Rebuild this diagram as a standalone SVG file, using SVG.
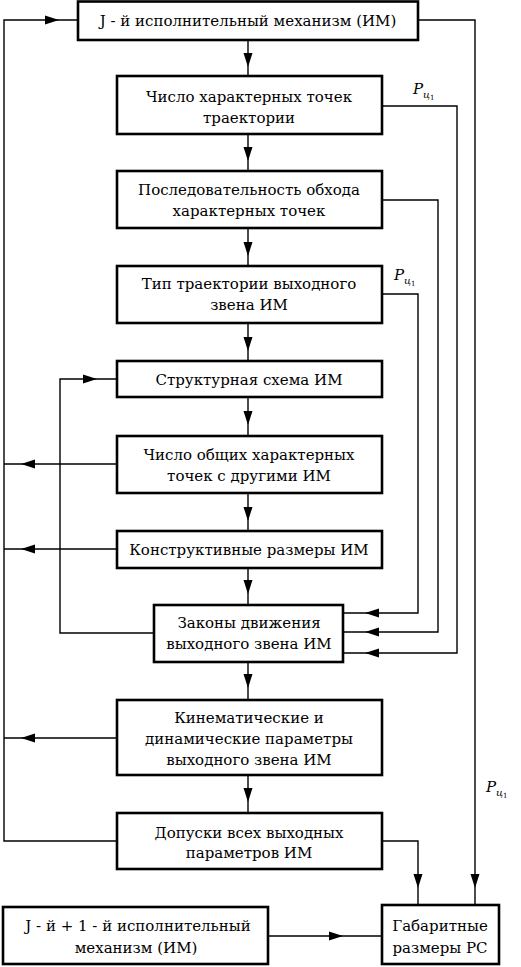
<svg xmlns="http://www.w3.org/2000/svg" xmlns:xlink="http://www.w3.org/1999/xlink" width="521" height="967" viewBox="0 0 521 967">
<style>
.box{fill:#fff;stroke:#000;stroke-width:2.6}
.c{fill:none;stroke:#000;stroke-width:1.4}
</style>
<defs>
<path id="ad" d="M-4.5,-14 L4.5,-14 L0,0 Z" fill="#000"/>
<path id="al" d="M14,-4.5 L14,4.5 L0,0 Z" fill="#000"/>
<path id="ar" d="M-14,-4.5 L-14,4.5 L0,0 Z" fill="#000"/>
</defs>
<g id="connectors">
<path class="c" d="M248,40 V76 M248,134 V171 M248,228 V266 M248,323 V361 M248,397 V436 M248,493 V531 M248,568 V605 M248,662 V700 M248,775 V813"/>
<use xlink:href="#ad" x="248" y="67"/>
<use xlink:href="#ad" x="248" y="161"/>
<use xlink:href="#ad" x="248" y="256"/>
<use xlink:href="#ad" x="248" y="351"/>
<use xlink:href="#ad" x="248" y="425"/>
<use xlink:href="#ad" x="248" y="521"/>
<use xlink:href="#ad" x="248" y="594"/>
<use xlink:href="#ad" x="248" y="688"/>
<use xlink:href="#ad" x="248" y="802"/>
<path class="c" d="M78,20 H4 V841 H117"/>
<use xlink:href="#ar" x="59" y="20"/>
<path class="c" d="M117,464 H4 M117,549 H4 M117,738 H4"/>
<use xlink:href="#al" x="21" y="464"/>
<use xlink:href="#al" x="21" y="549"/>
<use xlink:href="#al" x="21" y="738"/>
<path class="c" d="M154,633 H60 V379 H117"/>
<use xlink:href="#ar" x="97" y="379"/>
<path class="c" d="M382,106 H457 V653 H343 M382,200 H438 V632 H343 M382,294 H418 V613 H343"/>
<use xlink:href="#al" x="365" y="613"/>
<use xlink:href="#al" x="365" y="632"/>
<use xlink:href="#al" x="365" y="653"/>
<path class="c" d="M418,20 H475 V905 M382,841 H418 V905"/>
<use xlink:href="#ad" x="475" y="888"/>
<use xlink:href="#ad" x="418" y="888"/>
<path class="c" d="M268,936 H382"/>
<use xlink:href="#ar" x="343" y="936"/>
</g>
<g font-family="DejaVu Serif, serif" font-size="15" text-anchor="middle" fill="#000">
<g id="n1"><rect class="box" x="78" y="1.5" width="340" height="38.5"/><text x="248" y="25.5">J - й исполнительный механизм (ИМ)</text></g>
<g id="n2"><rect class="box" x="117" y="76" width="265" height="58"/><text x="249" y="101.5">Число характерных точек</text><text x="249" y="122.5">траектории</text></g>
<g id="n3"><rect class="box" x="117" y="171" width="265" height="57"/><text x="249" y="194.5">Последовательность обхода</text><text x="249" y="215.5">характерных точек</text></g>
<g id="n4"><rect class="box" x="117" y="266" width="265" height="57"/><text x="249" y="288.5">Тип траектории выходного</text><text x="249" y="309.5">звена ИМ</text></g>
<g id="n5"><rect class="box" x="117" y="361" width="265" height="36"/><text x="249" y="384.5">Структурная схема ИМ</text></g>
<g id="n6"><rect class="box" x="117" y="436" width="265" height="57"/><text x="249" y="459.5">Число общих характерных</text><text x="249" y="480.5">точек с другими ИМ</text></g>
<g id="n7"><rect class="box" x="117" y="531" width="265" height="37"/><text x="249" y="554.5">Конструктивные размеры ИМ</text></g>
<g id="n8"><rect class="box" x="154" y="605" width="189" height="57"/><text x="249" y="627.5">Законы движения</text><text x="249" y="648.5">выходного звена ИМ</text></g>
<g id="n9"><rect class="box" x="117" y="700" width="265" height="75"/><text x="249" y="722.5">Кинематические и</text><text x="249" y="743.5">динамические параметры</text><text x="249" y="764.5">выходного звена ИМ</text></g>
<g id="n10"><rect class="box" x="117" y="813" width="265" height="56"/><text x="249" y="837.5">Допуски всех выходных</text><text x="249" y="857.5">параметров ИМ</text></g>
<g id="n11"><rect class="box" x="3" y="907" width="265" height="57"/><text x="138" y="930.5">J - й + 1 - й исполнительный</text><text x="136" y="952.5">механизм (ИМ)</text></g>
<g id="n12"><rect class="box" x="382" y="905" width="117" height="59"/><text x="440" y="930.5">Габаритные</text><text x="440" y="952.5">размеры РС</text></g>
</g>
<g id="labels" font-family="DejaVu Serif, serif" font-style="italic" fill="#000">
<text x="413" y="94" font-size="15">P<tspan font-size="10" dy="4">ц</tspan><tspan font-size="7" font-style="normal" dy="2">1</tspan></text>
<text x="394" y="280" font-size="15">P<tspan font-size="10" dy="4">ц</tspan><tspan font-size="7" font-style="normal" dy="2">1</tspan></text>
<text x="486" y="792" font-size="15">P<tspan font-size="10" dy="4">ц</tspan><tspan font-size="7" font-style="normal" dy="2">1</tspan></text>
</g>
</svg>
